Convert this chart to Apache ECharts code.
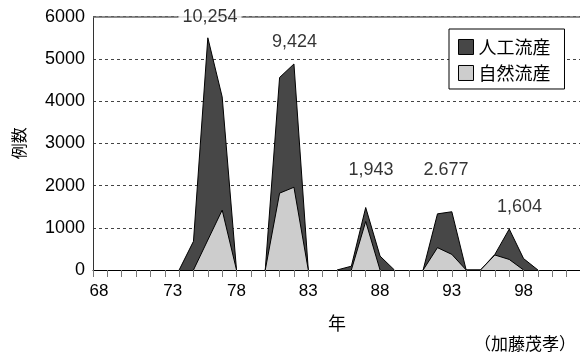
<!DOCTYPE html>
<html>
<head>
<meta charset="utf-8">
<script src="https://cdn.jsdelivr.net/npm/echarts@6/dist/echarts.min.js"></script>
<style>html,body{margin:0;padding:0;background:#fff}#c{width:580px;height:360px}</style>
</head>
<body>
<div id="c"></div>
<script>
// ---- data ----
var years = [74,75,76,77,78,79,80,81,82,83,84,85,86,87,88,89,90,91,92,93,94,95,96,97,98,99];
var induced = [0,680,5500,4100,0,null,0,4560,4880,0,null,0,90,1480,330,0,null,0,1330,1380,0,0,370,970,270,0];
var spontaneous = [null,0,710,1420,0,null,0,1820,1960,0,null,null,0,1150,0,null,null,0,530,370,0,0,355,250,0,null];
var seriesNames = ['人工流産', '自然流産'];
var xTickLabels = [68,73,78,83,88,93,98];
var yTicks = [0,1000,2000,3000,4000,5000,6000];
var noteTexts = ['10,254', '9,424', '1,943', '2.677', '1,604'];
var noteX = [76.15, 82.04, 87.37, 92.6, 97.72];
var noteY = [6000, 5400, 2370, 2370, 1500];
var yName = '例数';
var xName = '年';
var sourceText = '（加藤茂孝）';

var NUM = 'Liberation Sans, Arial, sans-serif';
var CJK = 'Noto Sans CJK JP, sans-serif';
var DARK = '#474747', LIGHT = '#cdcdcd';

function pairs(xs, vs){ return xs.map(function(x,i){ return [x, vs[i]]; }); }

var chart = echarts.init(document.getElementById('c'), null, {renderer:'canvas'});
chart.setOption({
  animation: false,
  backgroundColor: '#fff',
  grid: {left: 93, right: -1, top: 16.7, bottom: 90, containLabel: false, outerBoundsMode: 'none'},
  legend: {
    orient: 'vertical', left: 449, top: 29,
    padding: [9, 14, 7, 9], itemGap: 8, itemWidth: 15, itemHeight: 15,
    borderColor: '#000', borderWidth: 1, backgroundColor: '#fff',
    textStyle: {fontSize: 18, fontFamily: CJK, color: '#000'},
    data: [
      {name: seriesNames[0], icon: 'rect', itemStyle: {color: DARK, borderColor: '#000', borderWidth: 1}},
      {name: seriesNames[1], icon: 'rect', itemStyle: {color: LIGHT, borderColor: '#000', borderWidth: 1}}
    ]
  },
  xAxis: {
    type: 'value', min: 68, max: 102, interval: 1,
    name: xName, nameLocation: 'middle', nameGap: 44,
    nameTextStyle: {fontSize: 18, fontFamily: CJK, color: '#000'},
    axisLine: {show: true, lineStyle: {color: '#000', width: 1}},
    axisTick: {show: true, length: 7, lineStyle: {color: '#777'}},
    axisLabel: {
      fontSize: 17, fontFamily: NUM, color: '#000', margin: 13,
      formatter: function(v){
        if (xTickLabels.indexOf(v) < 0) return '';
        if (v === 68) return '{a|' + v + '}';
        if (v === 73) return '{b|' + v + '}';
        return String(v);
      },
      rich: {
        a: {fontSize: 17, fontFamily: NUM, color: '#000', padding: [0,0,0,12]},
        b: {fontSize: 17, fontFamily: NUM, color: '#000', padding: [0,0,0,16]}
      }
    },
    splitLine: {show: false}
  },
  yAxis: {
    type: 'value', min: yTicks[0], max: yTicks[yTicks.length-1], interval: 1000,
    name: yName, nameLocation: 'middle', nameRotate: 90, nameGap: 66,
    nameTextStyle: {fontSize: 16, fontFamily: CJK, color: '#000'},
    axisLine: {show: true, lineStyle: {color: '#333', width: 1}},
    axisTick: {show: false},
    axisLabel: {fontSize: 18, fontFamily: NUM, color: '#000', margin: 8,
      formatter: function(v){ return String(v); }},
    splitLine: {show: true, lineStyle: {color: '#444', type: [3,3], width: 1}}
  },
  series: [
    {
      name: seriesNames[0], type: 'line', data: pairs(years, induced),
      symbol: 'none', smooth: false, connectNulls: false,
      lineStyle: {color: '#000', width: 1},
      itemStyle: {color: DARK},
      areaStyle: {color: DARK, opacity: 1},
      z: 2,
      markLine: {
        silent: true, symbol: ['none','none'], label: {show: false},
        lineStyle: {type: 'solid', color: '#666', width: 1.5},
        data: [{yAxis: 6000}]
      }
    },
    {
      name: seriesNames[1], type: 'line', data: pairs(years, spontaneous),
      symbol: 'none', smooth: false, connectNulls: false,
      lineStyle: {color: '#000', width: 1},
      itemStyle: {color: LIGHT},
      areaStyle: {color: LIGHT, opacity: 1},
      z: 3
    },
    {
      name: 'notes', type: 'scatter', symbolSize: 0, silent: true, z: 10,
      data: noteTexts.map(function(t, i){
        var item = {name: t, value: [noteX[i], noteY[i]]};
        if (i === 0) item.label = {backgroundColor: '#fff', padding: [2, 4]};
        return item;
      }),
      label: {
        show: true, position: 'inside', formatter: '{b}',
        fontSize: 18, fontFamily: NUM, color: '#000', align: 'center', verticalAlign: 'middle'
      }
    }
  ],
  graphic: [
    {type: 'text', right: 4, top: 335, style: {text: sourceText, fontSize: 17, fontFamily: CJK, fill: '#000'}}
  ]
});
</script>
</body>
</html>
